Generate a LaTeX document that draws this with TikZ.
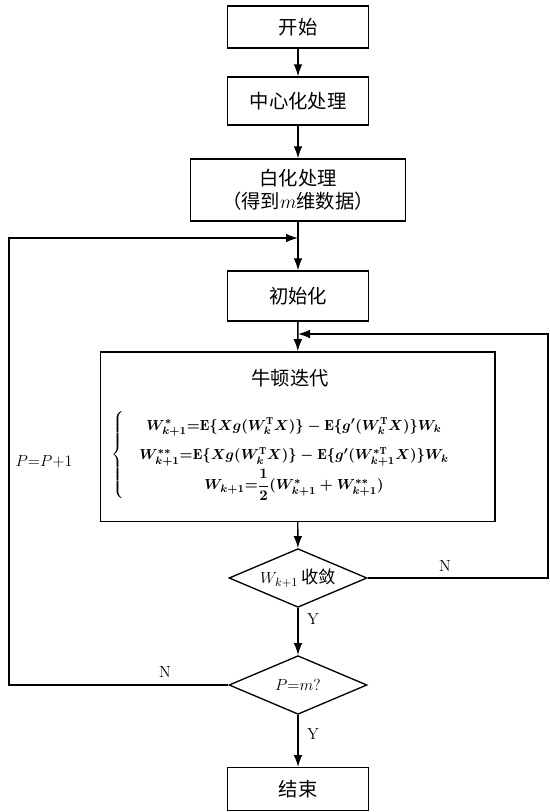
\documentclass[tikz,border=0pt]{standalone}
\usepackage{amsmath}
\usepackage{fontspec}
\newfontfamily\cjk{Noto Sans CJK SC}
\usetikzlibrary{shapes.geometric,arrows.meta}

\tikzset{
    box/.style={draw, line width=1pt, minimum width=105.75pt, inner sep=0pt,
        align=center, font=\cjk\fontsize{14.5}{17.5}\selectfont},
    test/.style={draw, diamond, line width=1pt, aspect=2.3, inner sep=0pt,
        minimum width=103.5pt, minimum height=44pt, font=\fontsize{13}{15}\selectfont},
    line/.style={line width=1pt},
    arr/.style={line width=1pt, -{Latex[length=9pt,width=6.5pt]}},
    lab/.style={font=\fontsize{12}{14}\selectfont}
}

% the three update formulas
\newsavebox\eqbox
\newcommand\setupdates{%
    \sbox\eqbox{\fontsize{11}{14}\selectfont\boldmath
    $\left\{\renewcommand{\arraystretch}{1.6}\begin{array}{@{\quad}c@{}}
    W^{*}_{k+1}{=}\mathrm{E}\{Xg(W_k^{\mathrm{T}}X)\}-\mathrm{E}\{g'(W_k^{\mathrm{T}}X)\}W_k\\
    W^{**}_{k+1}{=}\mathrm{E}\{Xg(W_k^{\mathrm{T}}X)\}-\mathrm{E}\{g'(W^{*\mathrm{T}}_{k+1}X)\}W_k\\
    W_{k+1}{=}\dfrac{1}{2}(W^{*}_{k+1}+W^{**}_{k+1})
    \end{array}\right.$}}

\begin{document}
\setupdates
\begin{tikzpicture}[x=0.75pt, y=-0.75pt]
    \def\xm{298} \def\xl{9} \def\xr{548}
    \useasboundingbox (0, 0) rectangle (549, 812);
    \coordinate (back) at (\xm, 238);
    \coordinate (again) at (\xm, 334);

    \node[box, minimum height=31.5pt] (start) at (\xm, 27) {开始};
    \node[box, minimum height=36pt] (center) at (\xm, 101) {中心化处理};
    \node[box, minimum width=161pt, minimum height=46.5pt] (white) at (\xm, 190)
        {白化处理\\（得到$m$维数据）};
    \node[box, minimum height=37.5pt] (init) at (\xm, 296) {初始化};
    \node[box, minimum width=296pt, minimum height=127pt] (newton) at (297.5, 436.5) {};
    \node[font=\cjk\fontsize{14.5}{17.5}\selectfont] (title) at (290, 378) {牛顿迭代};
    \node[inner sep=0pt] (eqs) at (281, 455) {\usebox\eqbox};
    \node[test] (conv) at (\xm, 578) {$W_{k+1}$\,{\cjk 收敛}};
    \node[test] (check) at (\xm, 685) {$P{=}m?$};
    \node[box, minimum height=32pt] (stop) at (\xm, 789) {结束};

    \draw[arr] (start) -- (center);
    \draw[arr] (center) -- (white);
    \draw[arr] (white) -- (init);
    \draw[arr] (init) -- (newton);
    \draw[arr] (newton) -- (conv);
    \draw[arr] (conv) -- (check);
    \draw[arr] (check) -- (stop);
    \draw[arr] (conv.east) -- (\xr, 578) |- (again);
    \draw[arr] (check.west) -- (\xl, 685) |- (back);

    \node[lab] (yes1) at (313, 619) {Y};
    \node[lab] (yes2) at (313, 734) {Y};
    \node[lab] (no1) at (445, 566) {N};
    \node[lab] (no2) at (165, 672) {N};
    \node[lab] (count) at (44, 462) {$P{=}P{+}1$};
\end{tikzpicture}
\end{document}
